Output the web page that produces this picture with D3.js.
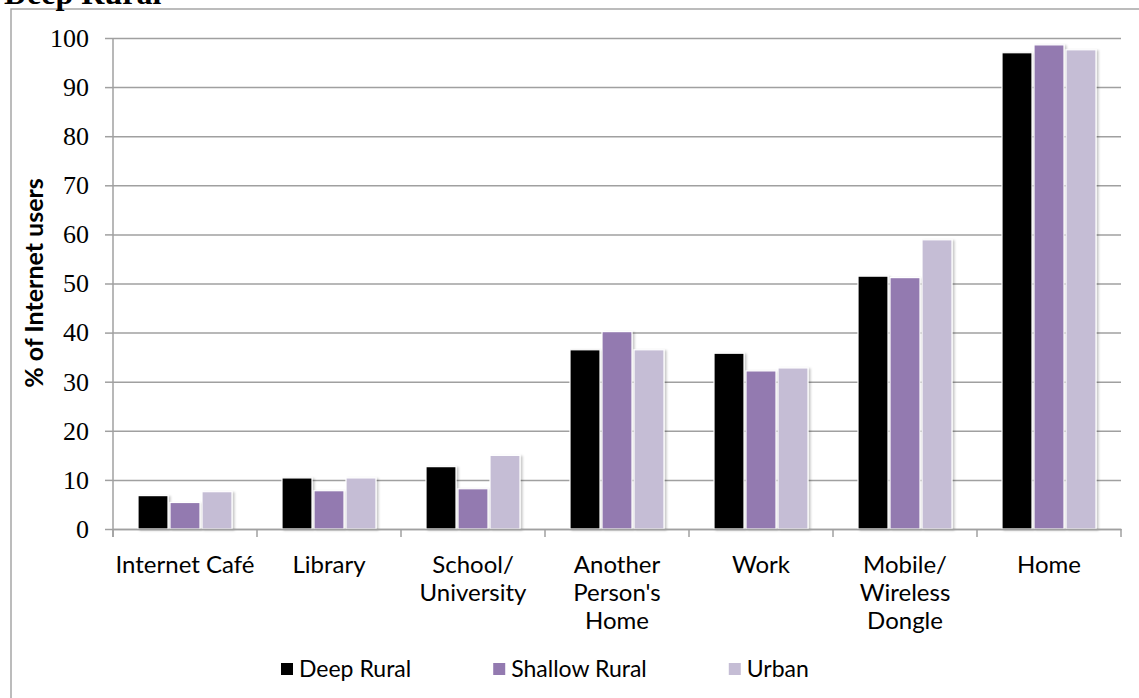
<!DOCTYPE html>
<html>
<head>
<meta charset="utf-8">
<script src="https://cdn.jsdelivr.net/npm/d3@7"></script>
<style>
  html, body { margin: 0; padding: 0; background: #fff; }
  svg { display: block; }
</style>
</head>
<body>
<div id="chart"></div>
<script>
// values
const categories = ["Internet Café", "Library", "School/\nUniversity", "Another\nPerson's\nHome", "Work", "Mobile/\nWireless\nDongle", "Home"]
const series = ["Deep Rural", "Shallow Rural", "Urban"]
const deepRural = [6.8, 10.4, 12.7, 36.5, 35.8, 51.5, 97.0]
const shallowRural = [5.4, 7.8, 8.2, 40.2, 32.2, 51.2, 98.6]
const urban = [7.6, 10.4, 15.0, 36.5, 32.8, 58.9, 97.6]
const yTicks = [0, 10, 20, 30, 40, 50, 60, 70, 80, 90, 100]
const colors = ["#000000", "#937ab0", "#c5bdd5"]

const W = 1139, H = 698
const sansFont = "Lato, 'Open Sans', sans-serif"
const serifFont = "'Liberation Serif', 'DejaVu Serif', serif"

const svg = d3.select("#chart").append("svg")
  .attr("width", W)
  .attr("height", H)

const defs = svg.append("defs")
const shadow = defs.append("filter").attr("id", "shadow")
  .attr("x", "-20%").attr("y", "-5%").attr("width", "150%").attr("height", "115%")
shadow.append("feDropShadow")
  .attr("dx", 2).attr("dy", 1).attr("stdDeviation", 1.2)
  .attr("flood-color", "#000").attr("flood-opacity", 0.22)

// outer frame (runs off the right and bottom of the picture)
svg.append("rect")
  .attr("x", 11).attr("y", 9)
  .attr("width", 1200).attr("height", 800)
  .attr("fill", "none")
  .attr("stroke", "#a6a6a6")
  .attr("stroke-width", 1.5)

// title, cut off at the top
svg.append("text")
  .attr("x", 4).attr("y", 4)
  .style("font-family", serifFont)
  .style("font-weight", "bold")
  .style("font-size", "32px")
  .text("Deep Rural")

const x = d3.scaleBand().domain(categories).range([113, 1121]).padding(0)
const xSub = d3.scaleBand().domain(series).range([24, 120]).padding(0)
const y = d3.scaleLinear().domain([0, 100]).range([529, 38])

// gridlines
svg.append("g")
  .attr("transform", "translate(113,0)")
  .call(d3.axisLeft(y).tickValues(yTicks).tickSize(-(1121 - 113)).tickFormat(""))
  .call(g => g.select(".domain").remove())
  .call(g => g.selectAll("line").attr("stroke", "#a0a0a0").attr("stroke-width", 1.5))

// y axis
svg.append("g")
  .attr("transform", "translate(113,0)")
  .call(d3.axisLeft(y).tickValues(yTicks).tickSize(8).tickSizeOuter(0).tickPadding(16))
  .call(g => g.select(".domain").attr("stroke", "#a0a0a0").attr("stroke-width", 1.5)
    .attr("d", "M0," + y(100) + "V537"))
  .call(g => g.selectAll("line").attr("stroke", "#a0a0a0").attr("stroke-width", 1.5))
  .call(g => g.selectAll("text")
    .style("font-family", serifFont)
    .style("font-size", "26px")
    .attr("fill", "#000"))

// bars
const values = [deepRural, shallowRural, urban]
const rows = categories.map((c, i) => series.map((s, j) => ({ cat: c, key: s, value: values[j][i], color: colors[j] })))

svg.append("g")
  .selectAll("g")
  .data(rows)
  .join("g")
    .attr("transform", d => "translate(" + x(d[0].cat) + ",0)")
  .selectAll("rect")
  .data(d => d)
  .join("rect")
    .attr("x", d => xSub(d.key) + 1)
    .attr("width", xSub.bandwidth() - 2)
    .attr("y", d => y(d.value))
    .attr("height", d => y(0) - y(d.value))
    .attr("fill", d => d.color)
    .attr("stroke", "#fff")
    .attr("stroke-width", 1.2)
    .attr("filter", "url(#shadow)")

// x axis
const xAxis = svg.append("g")
  .attr("transform", "translate(0," + y(0) + ")")
  .call(d3.axisBottom(x).tickSize(0).tickFormat(""))
  .call(g => g.select(".domain").attr("stroke", "#a0a0a0").attr("stroke-width", 1.5))

// category separator ticks
xAxis.selectAll("line.sep")
  .data(categories.concat([null]))
  .join("line")
    .attr("class", "sep")
    .attr("x1", (d, i) => 113 + i * x.bandwidth())
    .attr("x2", (d, i) => 113 + i * x.bandwidth())
    .attr("y1", 0).attr("y2", 8)
    .attr("stroke", "#a0a0a0")
    .attr("stroke-width", 1.5)

// category labels, several lines
svg.append("g")
  .selectAll("text")
  .data(categories)
  .join("text")
    .attr("text-anchor", "middle")
    .attr("y", 573)
    .style("font-family", sansFont)
    .style("font-size", "24px")
    .attr("fill", "#000")
  .selectAll("tspan")
  .data(d => d.split("\n").map(t => ({ cat: d, t })))
  .join("tspan")
    .attr("x", d => x(d.cat) + x.bandwidth() / 2)
    .attr("dy", (d, i) => i === 0 ? 0 : 28)
    .text(d => d.t)

// y axis title
svg.append("text")
  .attr("transform", "translate(43,283) rotate(-90)")
  .attr("text-anchor", "middle")
  .style("font-family", sansFont)
  .style("font-weight", "bold")
  .style("font-size", "25px")
  .text("% of Internet users")

// legend
const legend = svg.append("g")
let lx = 281
series.forEach((s, i) => {
  legend.append("rect")
    .attr("x", lx).attr("y", 663)
    .attr("width", 12).attr("height", 12)
    .attr("fill", colors[i])
  const t = legend.append("text")
    .attr("x", lx + 18).attr("y", 677)
    .style("font-family", sansFont)
    .style("font-size", "23px")
    .text(s)
  lx = lx + 18 + t.node().getComputedTextLength() + 82
})
</script>
</body>
</html>
